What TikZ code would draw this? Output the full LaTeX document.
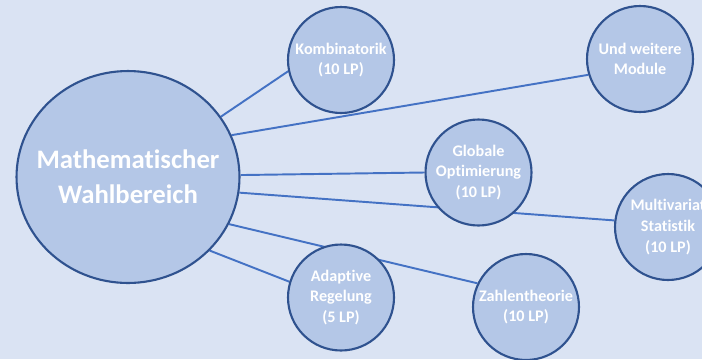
\documentclass[tikz,border=0pt]{standalone}
\usepackage{fontspec}
\setmainfont{Carlito}[Ligatures=CommonOff]
\usetikzlibrary{shapes.geometric,backgrounds}

\definecolor{hintergrund}{HTML}{DAE3F3}
\definecolor{kreisfill}{HTML}{B4C7E7}
\definecolor{kreisrand}{HTML}{2F528F}
\definecolor{kante}{HTML}{4472C4}

\tikzset{
	modul/.style={circle, draw=kreisrand, fill=kreisfill, line width=1.2pt,
		minimum size=2.12cm, inner sep=0pt, align=center, text=white,
		font=\bfseries\fontsize{9.2}{11.8}\selectfont},
	bereich/.style={ellipse, draw=kreisrand, fill=kreisfill, line width=1.2pt,
		minimum width=4.46cm, minimum height=4.24cm, inner sep=-10pt, align=center,
		text=white, font=\bfseries\fontsize{15.2}{19.7}\selectfont},
	verbindung/.style={draw=kante, line width=1.1pt}
}

\begin{document}
\begin{tikzpicture}[x=0.02cm, y=-0.02cm]
			\useasboundingbox (0,0) rectangle (702,359);
			% Wahlbereich und Module
			\node[bereich] (mwb) at (128,177) {Mathematischer\\Wahlbereich};
			\node[modul] (kombi) at (341,60) {Kombinatorik\\(10 LP)};
			\node[modul] (weitere) at (640,59) {Und weitere\\Module};
			\node[modul] (globopt) at (478.5,172.5) {Globale\\Optimierung\\(10 LP)};
			\node[modul] (multi) at (668,227) {Multivariat\\Statistik\\(10 LP)};
			\node[modul] (adaptiv) at (341,297.5) {Adaptive\\Regelung\\(5 LP)};
			\node[modul] (zahlen) at (526,307) {Zahlentheorie\\(10 LP)};
			% Verbindungen hinter den Kreisen
			\begin{pgfonlayer}{background}
				\fill[hintergrund] (0,0) rectangle (702,359);
				\draw[verbindung] (mwb.33.3) -- (kombi.192);
				\draw[verbindung] (mwb.22.2) -- (weitere.197);
				\draw[verbindung] (mwb.1.5) -- (globopt.180);
				\draw[verbindung] (mwb.-8.1) -- (multi.173.5);
				\draw[verbindung] (mwb.-25.6) -- (zahlen.154.4);
				\draw[verbindung] (mwb.-42) -- (adaptiv.163.4);
			\end{pgfonlayer}
		\end{tikzpicture}
\end{document}
